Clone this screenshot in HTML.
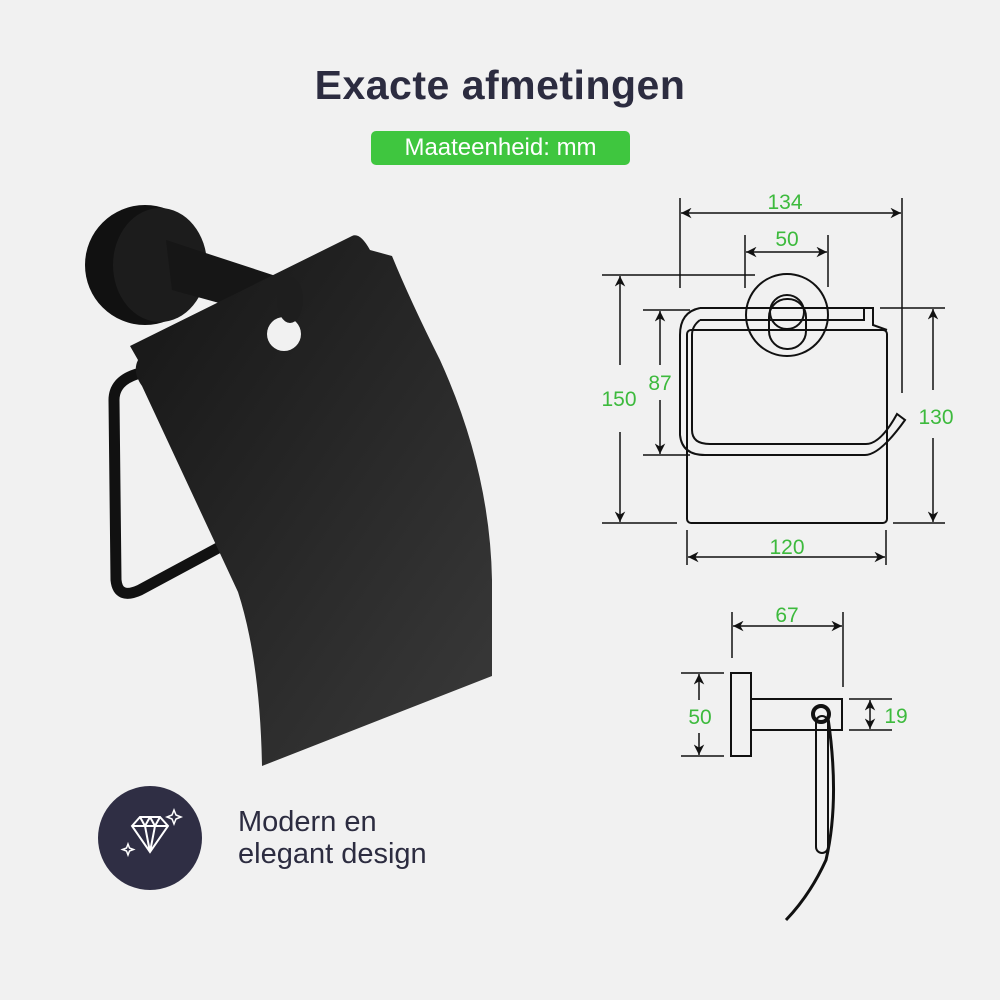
<!DOCTYPE html>
<html><head><meta charset="utf-8"><style>
html,body{margin:0;padding:0;background:#f1f1f1}
body{width:1000px;height:1000px;position:relative;overflow:hidden;font-family:"Liberation Sans",sans-serif}
.t{position:absolute;left:0;width:1000px;text-align:center;top:62px;font-size:41px;font-weight:bold;color:#2c2c40;letter-spacing:0.5px}
.pill{position:absolute;left:371px;top:131px;width:259px;height:34px;background:#3fc63f;border-radius:5px;color:#fff;font-size:24px;line-height:34px;text-align:center}
.m{position:absolute;left:238px;top:806px;font-size:29px;line-height:32px;color:#2c2c40}
</style></head><body>
<div class="t">Exacte afmetingen</div>
<div class="pill">Maateenheid: mm</div>
<svg width="1000" height="1000" style="position:absolute;left:0;top:0">
<defs>
<marker id="a" viewBox="0 0 10 10" refX="10" refY="5" markerWidth="7" markerHeight="7" orient="auto-start-reverse"><path d="M0,0L10,5L0,10L3,5z" fill="#111"/></marker>
<linearGradient id="g" x1="0" y1="0" x2="1" y2="1"><stop offset="0" stop-color="#151515"/><stop offset="1" stop-color="#3a3a3a"/></linearGradient>
</defs>
<!-- product -->
<ellipse cx="145" cy="265" rx="60" ry="60" fill="#111"/>
<ellipse cx="160" cy="265" rx="47" ry="57" fill="#1c1c1c"/>
<path d="M166,240 L288,280 L288,322 L172,290 Z" fill="#161616"/>
<path d="M145,372 Q114,378 114,400 L116,580 Q118,600 140,590 L218,548" fill="none" stroke="#111" stroke-width="11" stroke-linecap="round"/>
<path d="M130,346 L352,236 Q360,232 370,250 L392,256 Q410,300 440,360 Q490,470 492,580 L492,676 L262,766 Q260,660 238,592 L142,386 Q132,372 138,360 Z" fill="url(#g)"/>
<circle cx="284" cy="334" r="17" fill="#f1f1f1"/>
<ellipse cx="290" cy="300" rx="13" ry="23" fill="#1e1e1e"/>
<!-- icon -->
<circle cx="150" cy="838" r="52" fill="#2f2e44"/>
<g fill="none" stroke="#fff" stroke-width="2">
<path d="M132,826 L140,817 L160,817 L168,826 L150,852 Z M132,826 L168,826 M140,817 L145,826 L150,852 M160,817 L155,826 L150,852 M150,817 L145,826 M150,817 L155,826"/>
<path d="M174,810 l2,5 5,2 -5,2 -2,5 -2,-5 -5,-2 5,-2z M128,844 l1.5,4 4,1.5 -4,1.5 -1.5,4 -1.5,-4 -4,-1.5 4,-1.5z" stroke-width="1.5"/>
</g>
<!-- front drawing -->
<g stroke="#111" stroke-width="1.5" fill="none">
<line x1="680" y1="198" x2="680" y2="288"/><line x1="902" y1="198" x2="902" y2="393"/>
<line x1="681" y1="213" x2="901" y2="213" marker-start="url(#a)" marker-end="url(#a)"/>
<line x1="745" y1="235" x2="745" y2="288"/><line x1="828" y1="235" x2="828" y2="287"/>
<line x1="746" y1="252" x2="827" y2="252" marker-start="url(#a)" marker-end="url(#a)"/>
<line x1="602" y1="275" x2="755" y2="275"/><line x1="602" y1="523" x2="677" y2="523"/>
<line x1="620" y1="276" x2="620" y2="365" marker-start="url(#a)"/><line x1="620" y1="432" x2="620" y2="522" marker-end="url(#a)"/>
<line x1="643" y1="310" x2="690" y2="310"/><line x1="643" y1="455" x2="690" y2="455"/>
<line x1="660" y1="311" x2="660" y2="365" marker-start="url(#a)"/><line x1="660" y1="400" x2="660" y2="454" marker-end="url(#a)"/>
<line x1="880" y1="308" x2="945" y2="308"/><line x1="893" y1="523" x2="945" y2="523"/>
<line x1="933" y1="309" x2="933" y2="390" marker-start="url(#a)"/><line x1="933" y1="438" x2="933" y2="522" marker-end="url(#a)"/>
<line x1="687" y1="530" x2="687" y2="565"/><line x1="886" y1="530" x2="886" y2="565"/>
<line x1="688" y1="557" x2="885" y2="557" marker-start="url(#a)" marker-end="url(#a)"/>
<g stroke-width="2">
<rect x="687" y="330" width="200" height="193" rx="4"/>
<path d="M700,308 L873,308 L873,325 L887,330"/>
<path d="M700,320 L864,320 L864,308"/>
<circle cx="787" cy="315" r="41"/>
<rect x="769" y="299" width="37" height="50" rx="18"/>
<circle cx="787" cy="312" r="17"/>
<path d="M700,308 Q680,312 680,335 L680,435 Q682,455 705,455 L865,455 Q880,455 905,420 L897,414 Q880,445 865,444 L710,444 Q692,444 692,430 L692,335 Q692,326 700,320"/>
</g>
</g>
<!-- side drawing -->
<g stroke="#111" stroke-width="1.5" fill="none">
<line x1="732" y1="612" x2="732" y2="658"/><line x1="843" y1="612" x2="843" y2="687"/>
<line x1="733" y1="626" x2="842" y2="626" marker-start="url(#a)" marker-end="url(#a)"/>
<line x1="681" y1="673" x2="724" y2="673"/><line x1="681" y1="756" x2="724" y2="756"/>
<line x1="699" y1="674" x2="699" y2="700" marker-start="url(#a)"/><line x1="699" y1="733" x2="699" y2="755" marker-end="url(#a)"/>
<line x1="849" y1="699" x2="892" y2="699"/><line x1="849" y1="730" x2="892" y2="730"/>
<line x1="870" y1="700" x2="870" y2="729" marker-start="url(#a)" marker-end="url(#a)"/>
<g stroke-width="2">
<rect x="731" y="673" width="20" height="83"/>
<rect x="751" y="699" width="91" height="31"/>
<rect x="816" y="716" width="12" height="137" rx="6"/>
</g>
<circle cx="821" cy="714" r="8" stroke-width="4"/>
<path d="M828,718 Q840,800 826,860 Q810,895 786,920" stroke-width="3"/>
</g>
<g fill="#3dba3d" font-family="Liberation Sans,sans-serif" font-size="21" text-anchor="middle">
<text x="785" y="209">134</text><text x="787" y="246">50</text>
<text x="619" y="406">150</text><text x="660" y="390">87</text>
<text x="936" y="424">130</text><text x="787" y="554">120</text>
<text x="787" y="622">67</text><text x="700" y="724">50</text><text x="896" y="723">19</text>
</g>
</svg>
<div class="m">Modern en<br>elegant design</div>
</body></html>
